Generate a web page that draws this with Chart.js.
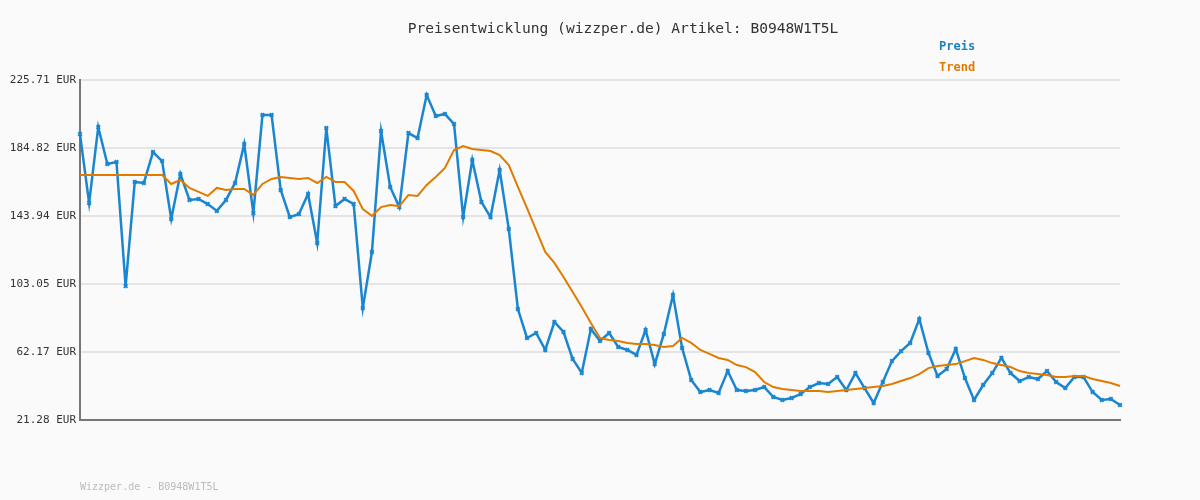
<!DOCTYPE html>
<html>
<head>
<meta charset="utf-8">
<script src="https://cdn.jsdelivr.net/npm/chart.js@4"></script>
<style>
  body { margin: 0; background: #fafafa; }
  #wrap { position: relative; width: 1200px; height: 500px; background: #fafafa; font-family: "DejaVu Sans Mono", monospace; }
  .txt { position: absolute; white-space: nowrap; }
</style>
</head>
<body>
<div id="wrap">
  <canvas id="chart" width="1200" height="500"></canvas>
  <div class="txt" style="left:0;width:1246px;top:19px;text-align:center;font-size:14.6px;color:#333;">Preisentwicklung (wizzper.de) Artikel: B0948W1T5L</div>
  <div class="txt" style="left:939px;top:39px;font-size:12px;font-weight:bold;color:#1a7fc6;">Preis</div>
  <div class="txt" style="left:939px;top:60px;font-size:12px;font-weight:bold;color:#e07b00;">Trend</div>
  <div class="txt" style="left:80px;top:481px;font-size:10px;color:#bbb;">Wizzper.de - B0948W1T5L</div>
</div>
<script>
// Preise (EUR)
const preis = [193.2,151.8,197.4,175.2,176.4,101.8,164.4,163.8,182.4,177.0,
  142.1,169.2,153.6,154.2,151.1,147.0,153.6,163.8,187.2,145.7,
  204.7,204.7,159.6,143.3,145.1,157.2,127.7,196.8,149.9,154.2,
  151.1,88.6,122.3,195.0,161.4,149.3,193.8,190.8,216.7,204.1,
  205.3,199.2,143.3,177.6,152.4,143.3,171.6,136.1,88.0,70.6,
  73.6,63.4,80.2,74.2,58.0,49.6,76.0,68.8,73.6,65.2,
  63.4,60.4,75.4,54.9,73.0,96.4,64.6,45.3,38.1,39.3,
  37.5,50.7,39.3,38.7,39.3,41.1,35.1,33.3,34.5,36.9,
  41.1,43.5,42.9,47.1,39.3,49.5,40.5,31.5,44.1,56.7,
  62.7,67.6,82.0,61.6,47.7,52.0,64.0,46.5,33.3,42.3,
  49.5,58.6,49.5,44.7,47.1,45.9,50.7,44.1,40.5,47.1,
  47.1,38.1,33.3,33.9,30.3];

const trend = [168.6,168.6,168.6,168.6,168.6,168.6,168.6,168.6,168.6,168.6,
  163.2,165.6,160.8,158.4,156.0,160.8,159.6,160.2,160.2,156.6,
  163.2,166.2,167.4,166.8,166.2,166.8,163.8,167.4,164.4,164.4,
  159.0,148.1,144.0,149.3,150.5,149.9,156.6,156.0,162.6,167.4,
  172.8,183.6,186.0,184.2,183.6,183.0,180.6,174.6,161.4,148.7,
  135.5,122.3,115.7,107.3,98.2,89.2,79.6,70.6,69.4,68.8,
  67.6,67.0,67.0,66.4,65.2,65.8,70.6,67.6,63.4,61.0,
  58.6,57.4,54.3,53.1,50.1,44.1,41.1,39.9,39.3,38.7,
  38.7,38.7,38.1,38.7,39.3,39.9,40.5,41.1,41.7,42.9,
  44.7,46.5,48.9,52.5,53.7,54.3,54.9,56.7,58.5,57.4,
  55.5,54.3,53.1,50.7,49.5,48.9,48.3,47.1,47.1,47.7,
  47.7,45.9,44.7,43.5,41.7];

const yTicks = [21.28, 62.17, 103.05, 143.94, 184.82, 225.71];
const labels = preis.map((_, i) => i + 1);

new Chart(document.getElementById('chart'), {
  type: 'line',
  data: {
    labels: labels,
    datasets: [
      { label: 'Trend', data: trend, borderColor: '#e07b00', borderWidth: 2, pointRadius: 0, tension: 0 },
      { label: 'Preis', data: preis, borderColor: '#1a86d0', backgroundColor: '#1a86d0', borderWidth: 2.5,
        pointStyle: 'crossRot', pointRadius: 2.5, pointBorderWidth: 2, tension: 0 }
    ]
  },
  options: {
    responsive: false,
    animation: false,
    layout: { padding: { top: 80, right: 80, bottom: 72, left: 0 } },
    plugins: { legend: { display: false }, title: { display: false }, tooltip: { enabled: false } },
    scales: {
      x: {
        offset: false,
        grid: { display: false },
        border: { color: '#777', width: 2 },
        ticks: { display: false }
      },
      y: {
        min: 21.28, max: 225.71,
        afterFit: (s) => { s.width = 80; },
        afterBuildTicks: (s) => { s.ticks = yTicks.map(v => ({ value: v })); },
        grid: { color: '#e4e4e4', lineWidth: 2, drawTicks: false },
        border: { color: '#777', width: 2 },
        ticks: {
          padding: 4,
          color: '#333',
          font: { family: 'DejaVu Sans Mono', size: 11 },
          callback: (v) => v.toFixed(2) + ' EUR'
        }
      }
    }
  }
});
</script>
</body>
</html>
